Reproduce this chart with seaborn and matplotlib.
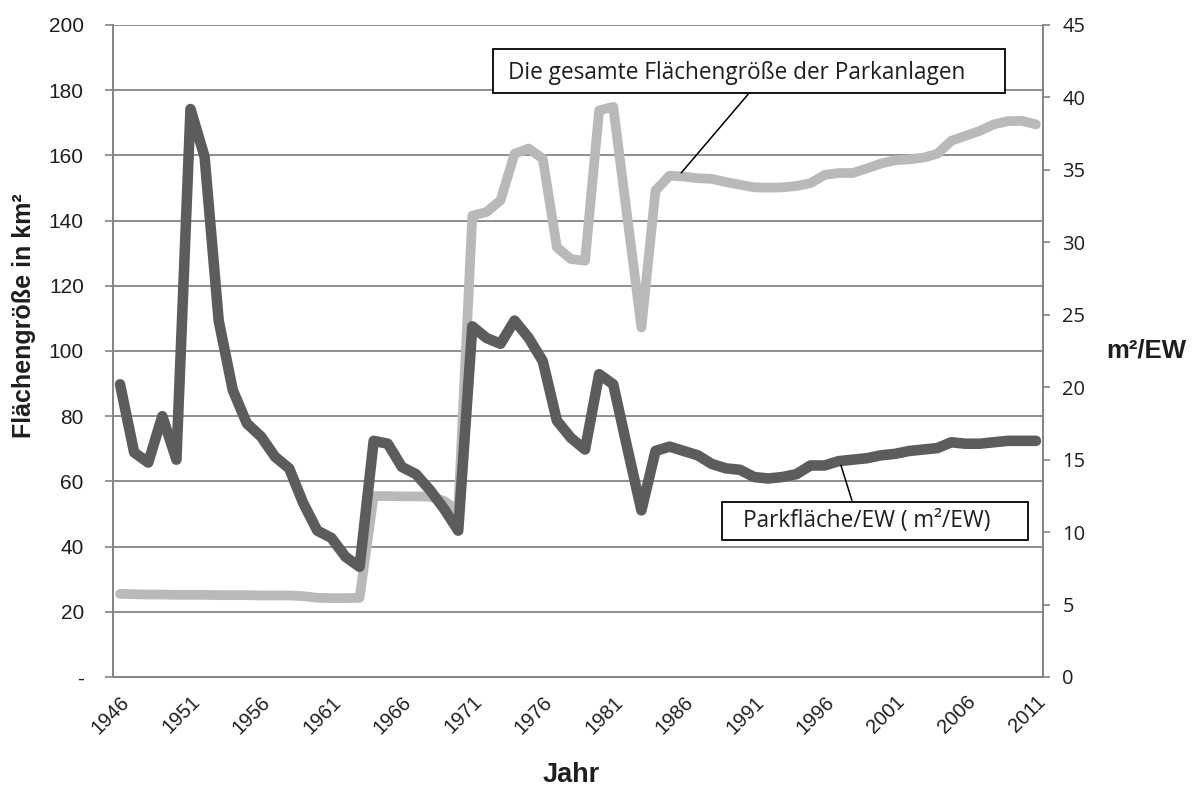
import numpy as np
import pandas as pd
import matplotlib
matplotlib.use('Agg')
import matplotlib.pyplot as plt
import seaborn as sns
from matplotlib.patches import Rectangle

# Jahre (Kategorien)
years = np.arange(1946, 2012)

# Gesamte Flächengröße der Parkanlagen in km² (linke Achse)
total_area = [25.5, 25.4, 25.3, 25.3, 25.2, 25.2, 25.2, 25.1, 25.1, 25.1, 25.0, 25.0, 25.0,
              24.8, 24.3, 24.2, 24.2, 24.3,
              55.5, 55.5, 55.4, 55.4, 55.3, 54.0, 51.0,
              141.5, 142.6, 146.2, 160.5, 162.1, 159.0, 131.8, 128.2, 127.7, 173.8, 174.9,
              141.0, 107.2, 149.2, 153.8,
              153.5, 153.0, 152.8, 151.8, 151.0, 150.2, 150.1, 150.2, 150.6, 151.5, 154.0,
              154.6, 154.6, 156.0, 157.5, 158.5, 158.8, 159.3, 160.5, 164.5, 166.0, 167.5,
              169.5, 170.5, 170.6, 169.5]

# Parkfläche pro Einwohner in m²/EW (rechte Achse)
area_per_ew = [20.2, 15.5, 14.8, 18.0, 15.0, 39.2, 35.9, 24.6, 19.8, 17.5, 16.6, 15.2, 14.4,
               12.0, 10.1, 9.6, 8.3, 7.6,
               16.3, 16.1, 14.5, 14.0, 12.9, 11.6, 10.1,
               24.2, 23.4, 23.0, 24.6, 23.4, 21.8, 17.7, 16.5, 15.7, 20.9, 20.2, 15.8, 11.5,
               15.6, 15.9,
               15.6, 15.3, 14.7, 14.4, 14.3, 13.8, 13.7, 13.8, 14.0, 14.6, 14.6, 14.9, 15.0,
               15.1, 15.3, 15.4, 15.6, 15.7, 15.8, 16.2, 16.1, 16.1, 16.2, 16.3, 16.3, 16.3]

left_ticks = [0, 20, 40, 60, 80, 100, 120, 140, 160, 180, 200]
left_labels = ['-', '20', '40', '60', '80', '100', '120', '140', '160', '180', '200']
right_ticks = [0, 5, 10, 15, 20, 25, 30, 35, 40, 45]
year_ticks = [1946, 1951, 1956, 1961, 1966, 1971, 1976, 1981, 1986, 1991, 1996, 2001, 2006, 2011]

df = pd.DataFrame({'Jahr': years, 'Flaeche': total_area, 'ProEW': area_per_ew})

sns.set_style('white')
plt.rcParams['font.family'] = ['Liberation Sans', 'DejaVu Sans']

fig = plt.figure(figsize=(12, 7.9), dpi=100)
ax = fig.add_axes([113 / 1200, 113 / 790, 930 / 1200, 652 / 790])
ax2 = ax.twinx()

light = '#b9b9b9'
dark = '#5c5c5c'
grid_c = '#858585'
txt_c = '#1e1e1e'

sns.lineplot(data=df, x='Jahr', y='Flaeche', ax=ax, color=light, linewidth=7.0,
             solid_capstyle='round', solid_joinstyle='round')
sns.lineplot(data=df, x='Jahr', y='ProEW', ax=ax2, color=dark, linewidth=7.6,
             solid_capstyle='round', solid_joinstyle='round')

ax.set_xlim(1945.5, 2011.5)
ax.set_ylim(0, 200)
ax2.set_ylim(0, 45)

ax.set_yticks(left_ticks)
ax.set_yticklabels(left_labels, fontsize=15, color=txt_c)
ax2.set_yticks(right_ticks)
ax2.set_yticklabels([str(t) for t in right_ticks], fontsize=14.5, color=txt_c,
                    family=['Open Sans', 'DejaVu Sans'])

ax.set_xticks(year_ticks)
ax.set_xticklabels([str(y) for y in year_ticks], rotation=45, ha='right',
                   rotation_mode='anchor', fontsize=14.5, color=txt_c)
ax.tick_params(axis='x', length=0, pad=11)
ax.tick_params(axis='y', length=6, width=1.2, color=grid_c, direction='out', pad=15)
ax2.tick_params(axis='y', length=5, width=1.2, color=grid_c, direction='out', pad=9)

ax.yaxis.grid(True, color=grid_c, linewidth=1.3)
ax.set_axisbelow(True)
for a in (ax, ax2):
    for s in ['left', 'right', 'bottom']:
        a.spines[s].set_color(grid_c)
        a.spines[s].set_linewidth(1.3)
    a.spines['top'].set_visible(False)

ax.set_xlabel('')
ax.set_ylabel('')
ax2.set_ylabel('')
fig.text(571 / 1200, 1 - 775 / 790, 'Jahr', fontsize=19.5, fontweight='bold',
         ha='center', va='center', color=txt_c)
fig.text(24 / 1200, 1 - 316 / 790, 'Flächengröße in km²', fontsize=18, fontweight='bold',
         rotation=90, ha='center', va='center', color=txt_c)
fig.text(1146 / 1200, 1 - 351 / 790, 'm²/EW', fontsize=18.5, fontweight='bold',
         ha='center', va='center', color=txt_c)

# Beschriftungskästen mit Führungslinien
box_font = ['Open Sans', 'DejaVu Sans']
fig.add_artist(Rectangle((493 / 1200, 1 - 93 / 790), 512 / 1200, 44 / 790,
                         transform=fig.transFigure, facecolor='white',
                         edgecolor='black', linewidth=1.3, zorder=5))
fig.text(737 / 1200, 1 - 73 / 790, 'Die gesamte Flächengröße der Parkanlagen',
         fontsize=16.3, family=box_font, ha='center', va='center', zorder=6, color=txt_c)
fig.add_artist(Rectangle((722 / 1200, 1 - 540 / 790), 306 / 1200, 38 / 790,
                         transform=fig.transFigure, facecolor='white',
                         edgecolor='black', linewidth=1.3, zorder=5))
fig.text(867 / 1200, 1 - 521 / 790, 'Parkfläche/EW ( m²/EW)',
         fontsize=16.3, family=box_font, ha='center', va='center', zorder=6, color=txt_c)

ax.annotate('', xy=(1985.7, 154), xytext=(1990.7, 179.4),
            arrowprops=dict(arrowstyle='-', color='black', lw=1.1))
ax2.annotate('', xy=(1997.1, 14.8), xytext=(1998.0, 12.0),
             arrowprops=dict(arrowstyle='-', color='black', lw=1.1))

fig.savefig('out.png', dpi=100)
